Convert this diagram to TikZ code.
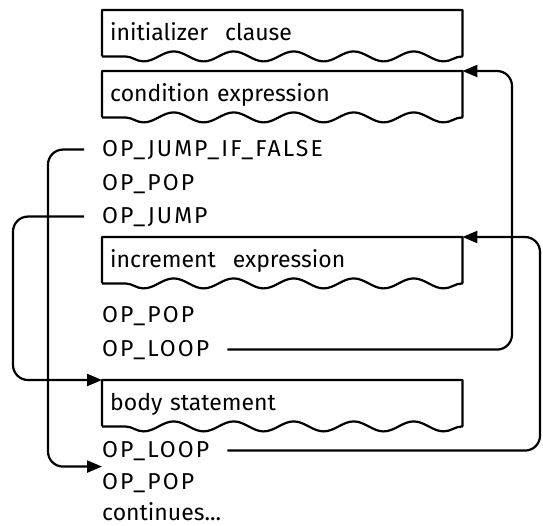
\documentclass[tikz,border=0pt]{standalone}
\usepackage{fontspec}
\setmainfont{Fira Sans}
\usepackage{tikz}
\usetikzlibrary{positioning, arrows.meta, decorations.pathmorphing, calc}

\begin{document}
\begin{tikzpicture}[
    x=1pt, y=-1pt,
    every node/.style={font=\fontsize{23}{26}\selectfont, text=black},
    plain/.style={anchor=base west, inner xsep=0pt, inner ysep=1pt},
    op/.style={plain, font=\fontsize{23}{26}\selectfont\addfontfeature{LetterSpace=9}},
    blockbox/.style={anchor=north west, minimum width=360pt, text width=344pt,
        inner xsep=8pt, inner ysep=3pt, text height=27pt, text depth=13pt, align=left},
    outline/.style={line width=2.2pt, line join=round},
    wave/.style={decoration={snake, segment length=60pt, amplitude=5pt}},
    link/.style={line width=2.2pt, rounded corners=15pt, shorten <=18pt},
    jumpto/.style={link, -{Triangle[length=15pt, width=12pt]}}
]
\useasboundingbox (0,0) rectangle (543,525);

% Compiled blocks
\node[blockbox] (init) at (102,10) {initializer\hspace{0.4em} clause};
\node[blockbox] (cond) at (102,71) {condition expression};
\node[blockbox] (incr) at (102,237) {increment\hspace{0.4em} expression};
\node[blockbox] (body) at (102,380) {body statement};

\foreach \blk in {init, cond, incr, body} {
    \draw[outline] (\blk.south west) |- (\blk.north east) -- (\blk.south east)
        decorate[wave] { -- (\blk.south west) };
}

% Emitted instructions
\node[op] (jif)   at (102,156) {OP\_JUMP\_IF\_FALSE};
\node[op] (popa)  at (102,190) {OP\_POP};
\node[op] (jmp)   at (102,223) {OP\_JUMP};
\node[op] (popb)  at (102,322) {OP\_POP};
\node[op] (loopa) at (102,356) {OP\_LOOP};
\node[op] (loopb) at (102,457) {OP\_LOOP};
\node[op] (popc)  at (102,489) {OP\_POP};
\node[plain] (cont) at (102,520) {continues...};

% Rails for the jumps
\coordinate (railA) at (512,0);
\coordinate (railB) at (540,0);
\coordinate (railC) at (48,0);
\coordinate (railD) at (13,0);
\coordinate (exit) at ($(loopb.west)!0.5!(popc.west)$);

\draw[jumpto] (loopa.east) -- (railA |- loopa.east) -- (railA |- cond.north east) -- (cond.north east);
\draw[jumpto] (loopb.east) -- (railB |- loopb.east) -- (railB |- incr.north east) -- (incr.north east);
\draw[jumpto] (jif.west) -- (railC |- jif.west) -- (railC |- exit) -- (exit);
\draw[jumpto] (jmp.west) -- (railD |- jmp.west) -- (railD |- body.north west) -- (body.north west);

\end{tikzpicture}
\end{document}
